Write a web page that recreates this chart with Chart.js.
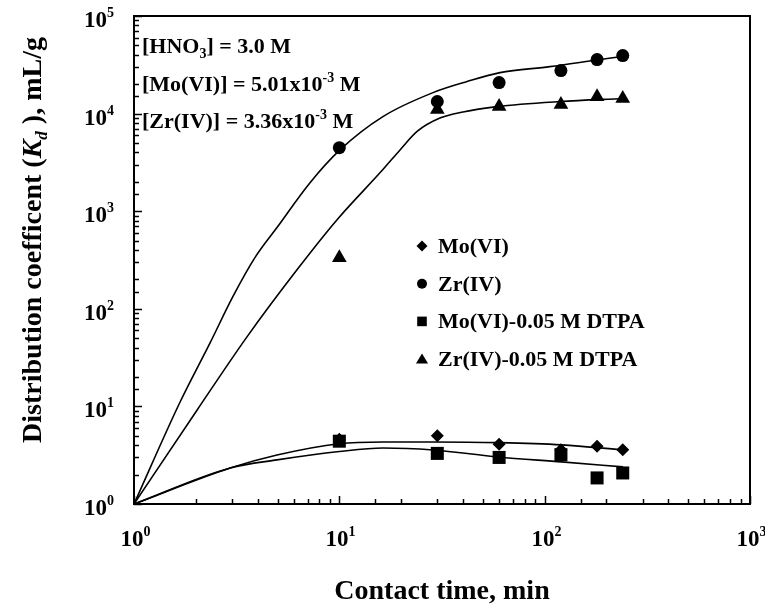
<!DOCTYPE html>
<html>
<head>
<meta charset="utf-8">
<script src="https://cdn.jsdelivr.net/npm/chart.js@4.4.0/dist/chart.umd.min.js"></script>
<style>
  html, body { margin: 0; padding: 0; background: #fff; }
</style>
</head>
<body>
<canvas id="kdChart" width="765" height="609"></canvas>
<script>
/* ==========================================
   Kd vs contact time (log-log)
========================================== */

const contactTime = [10, 30, 60, 120, 180, 240];

const moKd = [4.6, 5.0, 4.1, 3.6, 3.9, 3.6];
const zrKd = [4480, 13300, 20800, 27600, 35800, 39300];
const moDtpaKd = [4.4, 3.3, 3.0, 3.2, 1.85, 2.08];
const zrDtpaKd = [334, 11000, 11800, 12400, 14900, 14300];

// fitted curves
const zrFitTime = [1, 1.67, 2.35, 3.03, 3.88, 4.97, 7.2, 10.1, 16.3, 28.6, 41.9, 60.6, 106, 186, 238];
const zrFitKd = [1, 10.9, 45, 133, 334, 680, 1960, 4270, 9310, 16400, 21300, 26300, 30300, 35800, 38400];

const zrDtpaFitTime = [1, 2.03, 3.55, 6.22, 9.75, 16.3, 19.8, 24, 30.9, 40, 58.6, 119, 241];
const zrDtpaFitKd = [1, 9.2, 51.6, 251, 818, 2670, 4270, 6600, 9000, 10400, 11800, 13300, 14300];

const moFitTime = [1, 2.94, 4.97, 10, 16.3, 28.6, 60, 121, 241];
const moFitKd = [1, 2.34, 3.18, 4.15, 4.32, 4.32, 4.25, 4.03, 3.58];

const moDtpaFitTime = [1, 2.94, 4.97, 10, 16.3, 28.6, 59.3, 121, 241];
const moDtpaFitKd = [1, 2.34, 2.83, 3.45, 3.75, 3.58, 3.03, 2.7, 2.4];

const xTickPowers = [0, 1, 2, 3];
const yTickPowers = [0, 1, 2, 3, 4, 5];

const seriesLabels = ["Mo(VI)", "Zr(IV)", "Mo(VI)-0.05 M DTPA", "Zr(IV)-0.05 M DTPA"];

const serif = "'Liberation Serif', 'Times New Roman', serif";

function toPoints(xs, ys) {
    return xs.map((x, i) => ({ x: x, y: ys[i] }));
}

function powerOf(v) {
    const e = Math.log10(v);
    const r = Math.round(e);
    return Math.abs(e - r) < 1e-6 ? r : null;
}

// text with sub/superscripts and italics, drawn on the canvas
function drawRich(ctx, parts, x, y, size, align) {
    const fontFor = k => {
        const small = k === "sub" || k === "sup" || k === "isub";
        const italic = k === "i" || k === "isub";
        return (italic ? "italic " : "") + "bold " + Math.round(small ? size * 0.62 : size) + "px " + serif;
    };
    let w = 0;
    parts.forEach(([t, k]) => { ctx.font = fontFor(k); w += ctx.measureText(t).width; });
    let cx = x;
    if (align === "center") cx = x - w / 2;
    if (align === "right") cx = x - w;
    parts.forEach(([t, k]) => {
        ctx.font = fontFor(k);
        let dy = 0;
        if (k === "sub" || k === "isub") dy = size * 0.22;
        if (k === "sup") dy = -size * 0.42;
        ctx.fillText(t, cx, y + dy);
        cx += ctx.measureText(t).width;
    });
}

function drawMarker(ctx, style, x, y, r) {
    ctx.beginPath();
    if (style === "circle") {
        ctx.arc(x, y, r, 0, Math.PI * 2);
    } else if (style === "rect") {
        ctx.rect(x - r, y - r, 2 * r, 2 * r);
    } else if (style === "rectRot") {
        ctx.moveTo(x, y - r);
        ctx.lineTo(x + r, y);
        ctx.lineTo(x, y + r);
        ctx.lineTo(x - r, y);
    } else {
        ctx.moveTo(x, y - r);
        ctx.lineTo(x + r * 1.1, y + r * 0.8);
        ctx.lineTo(x - r * 1.1, y + r * 0.8);
    }
    ctx.closePath();
    ctx.fill();
}

/* frame, inward ticks, tick labels, texts */
const decorations = {

    id: "decorations",

    afterDraw(chart) {

        const { ctx, chartArea: a, scales } = chart;

        ctx.save();
        ctx.strokeStyle = "#000";
        ctx.fillStyle = "#000";
        ctx.textBaseline = "alphabetic";

        // inward tick marks + power-of-ten labels
        ctx.lineWidth = 1.5;
        ctx.beginPath();
        scales.x.ticks.forEach(t => {
            const px = Math.round(scales.x.getPixelForValue(t.value)) + 0.5;
            const p = powerOf(t.value);
            ctx.moveTo(px, a.bottom);
            ctx.lineTo(px, a.bottom - (p !== null ? 8 : 5));
            if (p !== null && xTickPowers.includes(p)) {
                drawRich(ctx, [["10", ""], [String(p), "sup"]], px + 1, a.bottom + 42, 23, "center");
            }
        });
        scales.y.ticks.forEach(t => {
            const py = Math.round(scales.y.getPixelForValue(t.value)) + 0.5;
            const p = powerOf(t.value);
            ctx.moveTo(a.left, py);
            ctx.lineTo(a.left + (p !== null ? 8 : 5), py);
            if (p !== null && yTickPowers.includes(p)) {
                drawRich(ctx, [["10", ""], [String(p), "sup"]], a.left - 20, py + 10, 23, "right");
            }
        });
        ctx.stroke();

        // plot frame
        ctx.lineWidth = 2;
        ctx.strokeRect(a.left, a.top, a.right - a.left, a.bottom - a.top);

        // conditions
        drawRich(ctx, [["[HNO", ""], ["3", "sub"], ["] = 3.0 M", ""]], 142, 53, 22);
        drawRich(ctx, [["[Mo(VI)] = 5.01x10", ""], ["-3", "sup"], [" M", ""]], 142, 91, 22);
        drawRich(ctx, [["[Zr(IV)] = 3.36x10", ""], ["-3", "sup"], [" M", ""]], 142, 128, 22);

        // legend
        const markerSets = chart.data.datasets.filter(d => d.inLegend);
        markerSets.forEach((d, i) => {
            const cy = 246 + i * 37.7;
            drawMarker(ctx, d.pointStyle, 422, cy, d.pointStyle === "circle" ? 5 : d.pointStyle === "rect" ? 4.8 : 5.5);
            ctx.font = "bold 22px " + serif;
            ctx.fillText(d.label, 438, cy + 7);
        });

        // y axis title
        ctx.translate(41, 240);
        ctx.rotate(-Math.PI / 2);
        drawRich(ctx, [
            ["Distribution coefficent (", ""],
            ["K", "i"],
            ["d", "isub"],
            [" ), mL/g", ""]
        ], 0, 0, 28, "center");

        ctx.restore();
    }
};

function markerSet(label, ys, style, radius) {
    return {
        label: label,
        data: toPoints(contactTime, ys),
        inLegend: true,
        showLine: false,
        pointStyle: style,
        pointRadius: radius,
        pointBackgroundColor: "#000",
        pointBorderColor: "#000",
        pointBorderWidth: 0,
        order: 0
    };
}

function curveSet(xs, ys) {
    return {
        data: toPoints(xs, ys),
        showLine: true,
        borderColor: "#000",
        borderWidth: 1.6,
        pointRadius: 0,
        cubicInterpolationMode: "monotone",
        order: 1
    };
}

new Chart(document.getElementById("kdChart"), {

    type: "scatter",

    data: {
        datasets: [
            markerSet(seriesLabels[0], moKd, "rectRot", 6.5),
            markerSet(seriesLabels[1], zrKd, "circle", 6.5),
            markerSet(seriesLabels[2], moDtpaKd, "rect", 9.2),
            markerSet(seriesLabels[3], zrDtpaKd, "triangle", 8.5),
            curveSet(zrFitTime, zrFitKd),
            curveSet(zrDtpaFitTime, zrDtpaFitKd),
            curveSet(moFitTime, moFitKd),
            curveSet(moDtpaFitTime, moDtpaFitKd)
        ]
    },

    options: {

        responsive: false,
        animation: false,
        events: [],

        layout: {
            padding: { top: 16, right: 15, left: 0, bottom: 0 }
        },

        plugins: {
            legend: { display: false },
            tooltip: { enabled: false }
        },

        scales: {

            x: {
                type: "logarithmic",
                position: "bottom",
                min: 1,
                max: 1000,
                afterFit: s => {
                    s.height = 105;
                    s.paddingLeft = 0;
                    s.paddingRight = 0;
                },
                grid: { display: false, drawTicks: false },
                border: { display: false },
                ticks: { display: false, autoSkip: false },
                title: {
                    display: true,
                    text: "Contact time, min",
                    color: "#000",
                    font: { family: serif, weight: "bold", size: 28 },
                    padding: { top: 0, bottom: 0 }
                }
            },

            y: {
                type: "logarithmic",
                min: 1,
                max: 100000,
                afterFit: s => {
                    s.width = 134;
                    s.paddingTop = 0;
                    s.paddingBottom = 0;
                },
                grid: { display: false, drawTicks: false },
                border: { display: false },
                ticks: { display: false, autoSkip: false }
            }

        }

    },

    plugins: [decorations]

});
</script>
</body>
</html>
